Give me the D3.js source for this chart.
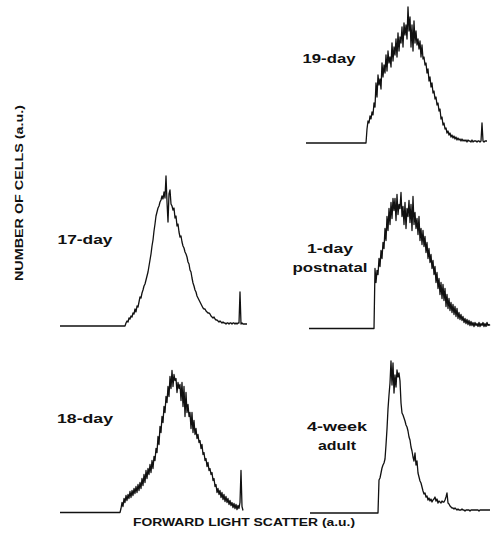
<!DOCTYPE html>
<html>
<head>
<meta charset="utf-8">
<script src="https://cdn.jsdelivr.net/npm/d3@7"></script>
<style>
  body { margin: 0; background: #fff; }
  text { font-family: "Liberation Sans", Arial, sans-serif; font-weight: bold; fill: #111; }
</style>
</head>
<body>
<svg id="chart" width="491" height="539"></svg>
<script>
// counts per channel; each list starts at the channel where the curve leaves the baseline
const start19 = 60;
const counts19 = [
  0, 14, 22, 20, 27, 24, 31, 28, 40, 36,
  60, 46, 68, 58, 64, 54, 80, 66, 78, 70,
  88, 72, 92, 80, 86, 76, 100, 82, 96, 88,
  104, 86, 110, 92, 106, 100, 116, 96, 120, 108,
  118, 104, 136, 112, 126, 96, 118, 92, 122, 100,
  112, 98, 104, 94, 102, 86, 98, 84, 86, 78,
  80, 70, 74, 62, 66, 56, 60, 50, 52, 44,
  46, 38, 40, 32, 34, 24, 26, 18, 20, 14,
  15, 10, 12, 8, 10, 6, 8, 5, 7, 4,
  6, 3, 5, 3, 4, 2, 4, 2, 3, 2,
  3, 1, 3, 2, 2, 1, 3, 1, 2, 2,
  2, 1, 2, 2, 1, 2, 20, 2, 1, 2,
  2, 2
];

const start17 = 65;
const counts17 = [
  0, 3, 5, 4, 8, 7, 10, 9, 13, 12,
  17, 14, 20, 19, 24, 29, 28, 33, 36, 40,
  42, 46, 50, 54, 60, 66, 72, 80, 86, 95,
  102, 110, 114, 118, 120, 124, 126, 130, 127, 134,
  128, 150, 124, 104, 132, 136, 122, 120, 116, 118,
  108, 110, 100, 102, 94, 89, 90, 84, 80, 78,
  74, 72, 69, 64, 62, 56, 54, 48, 43, 40,
  36, 34, 30, 28, 26, 24, 22, 20, 18, 17,
  17, 15, 14, 13, 13, 12, 10, 9, 8, 9,
  7, 6, 6, 5, 4, 5, 4, 3, 4, 3,
  3, 2, 3, 3, 2, 3, 3, 2, 3, 3,
  2, 3, 2, 3, 3, 34, 2, 3, 2, 2,
  2, 2, 2
];

const start1d = 65;
const counts1d = [
  0, 60, 46, 58, 54, 70, 62, 78, 70, 86,
  80, 100, 88, 112, 98, 120, 104, 126, 110, 130,
  118, 130, 108, 134, 114, 124, 120, 136, 112, 122,
  104, 126, 100, 120, 112, 128, 106, 124, 98, 132,
  104, 116, 100, 110, 94, 112, 88, 100, 84, 98,
  82, 92, 76, 86, 70, 80, 66, 74, 60, 68,
  54, 62, 46, 56, 40, 50, 34, 46, 30, 44,
  28, 40, 22, 34, 20, 30, 18, 26, 16, 24,
  14, 22, 12, 20, 10, 16, 9, 14, 8, 12,
  6, 10, 5, 9, 4, 8, 3, 7, 3, 6,
  2, 6, 3, 5, 2, 6, 2, 5, 3, 6,
  2, 5, 2, 6, 3, 4, 3
];

const start18 = 60;
const counts18 = [
  0, 4, 10, 6, 14, 10, 17, 12, 18, 14,
  21, 15, 22, 17, 24, 19, 26, 20, 28, 22,
  30, 24, 34, 27, 38, 30, 42, 34, 44, 38,
  48, 40, 52, 44, 56, 52, 64, 60, 76, 68,
  86, 80, 96, 90, 106, 100, 116, 110, 126, 116,
  136, 124, 142, 126, 138, 132, 134, 120, 130, 124,
  128, 112, 130, 106, 126, 96, 120, 100, 108, 96,
  100, 84, 100, 80, 92, 78, 84, 74, 78, 70,
  72, 64, 68, 58, 60, 52, 54, 46, 50, 42,
  44, 38, 40, 32, 34, 26, 28, 20, 24, 18,
  22, 15, 20, 13, 18, 11, 16, 10, 14, 8,
  12, 7, 10, 5, 9, 4, 8, 3, 7, 4,
  10, 42, 6, 2
];

const start4w = 68;
const counts4w = [
  0, 33, 35, 40, 45, 48, 50, 54, 68, 84,
  104, 118, 130, 152, 128, 150, 120, 138, 126, 143,
  136, 140, 132, 110, 100, 98, 95, 92, 88, 86,
  82, 76, 73, 66, 62, 56, 52, 60, 48, 52,
  40, 36, 32, 30, 26, 22, 19, 20, 16, 17,
  13, 15, 12, 14, 11, 13, 14, 16, 12, 14,
  10, 12, 11, 10, 12, 11, 11, 13, 16, 20,
  10, 9, 7, 6, 5, 5, 4, 5, 4, 3,
  4, 3, 3, 3, 4, 3, 3, 2, 3, 3,
  3, 3, 2, 3, 3, 3, 3, 3, 3, 3,
  3, 2, 3, 3, 3, 3, 3, 3, 3, 3,
  3, 3, 3
];

const svg = d3.select("#chart");

// panel placement on the page
const panels = [
  { counts: counts19, start: start19, x0: 306, base: 143, label: ["19-day"], lx: 329, ly: 63 },
  { counts: counts17, start: start17, x0: 60, base: 326, label: ["17-day"], lx: 85, ly: 244 },
  { counts: counts1d, start: start1d, x0: 309, base: 328.5, label: ["1-day", "postnatal"], lx: 330, ly: 253 },
  { counts: counts18, start: start18, x0: 60, base: 512.5, label: ["18-day"], lx: 85, ly: 423 },
  { counts: counts4w, start: start4w, x0: 310, base: 513, label: ["4-week", "adult"], lx: 337, ly: 431 }
];

const labelWidths = { "19-day": 53, "17-day": 55, "1-day": 46, "postnatal": 75, "18-day": 56, "4-week": 60, "adult": 38 };

panels.forEach(p => {
  const x = d3.scaleLinear().domain([0, 185]).range([p.x0, p.x0 + 185]);
  const y = d3.scaleLinear().domain([0, 160]).range([p.base, p.base - 160]);
  const pts = [[0, 0]].concat(p.counts.map((c, i) => [p.start + i, c]));
  const line = d3.line().x(d => x(d[0])).y(d => y(d[1]));

  svg.append("path")
    .datum(pts)
    .attr("d", line)
    .attr("fill", "none")
    .attr("stroke", "#111")
    .attr("stroke-width", 1.3)
    .attr("stroke-linejoin", "round");

  p.label.forEach((t, i) => {
    svg.append("text")
      .attr("x", p.lx)
      .attr("y", p.ly + i * 19)
      .attr("text-anchor", "middle")
      .attr("font-size", 12.5)
      .attr("textLength", labelWidths[t])
      .attr("lengthAdjust", "spacingAndGlyphs")
      .text(t);
  });
});

svg.append("text")
  .attr("x", 244)
  .attr("y", 526)
  .attr("text-anchor", "middle")
  .attr("font-size", 11.5)
  .attr("textLength", 222)
  .attr("lengthAdjust", "spacingAndGlyphs")
  .text("FORWARD LIGHT SCATTER (a.u.)");

svg.append("text")
  .attr("transform", "translate(23,193) rotate(-90)")
  .attr("text-anchor", "middle")
  .attr("font-size", 11.5)
  .attr("textLength", 176)
  .attr("lengthAdjust", "spacingAndGlyphs")
  .text("NUMBER OF CELLS (a.u.)");
</script>
</body>
</html>
